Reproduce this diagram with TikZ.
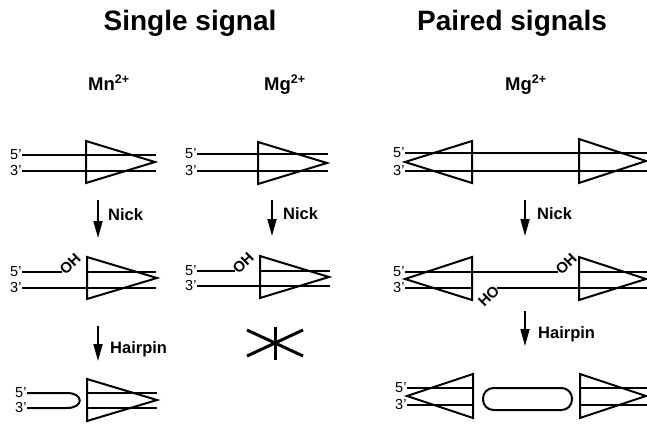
\documentclass[tikz,border=0pt]{standalone}
\usepackage{fontspec}
\setmainfont{Liberation Sans}
\usetikzlibrary{arrows.meta}
\begin{document}
\begin{tikzpicture}[x=1pt,y=-1pt,
  strand/.style={line width=2pt},
  tri/.style={line width=2pt, line join=miter},
  endlbl/.style={font=\fontsize{14.5}{14.5}\selectfont, inner sep=0.3pt, anchor=east},
  title/.style={font=\bfseries\fontsize{28}{28}\selectfont, inner sep=0pt, anchor=base},
  ion/.style={font=\bfseries\fontsize{18.5}{18.5}\selectfont, inner sep=0pt, anchor=base west},
  stepar/.style={line width=1.7pt, -{Triangle[length=17pt,width=9pt]}},
  steplbl/.style={font=\bfseries\fontsize{16.5}{16.5}\selectfont, inner sep=0pt, anchor=west},
  ohlbl/.style={font=\bfseries\fontsize{15}{15}\selectfont, inner sep=0.2pt, rotate=45},
  cross/.style={line width=3pt}]
\useasboundingbox (0,0) rectangle (647,423);
\newcommand{\supsc}[1]{\raisebox{0.33em}{\fontsize{12.5}{12.5}\selectfont #1}}
% titles
\node[title] (t1) at (190,30) {Single signal};
\node[title] (t2) at (512,30) {Paired signals};
\node[ion] (i1) at (88,90) {Mn\supsc{2+}};
\node[ion] (i2) at (264,90) {Mg\supsc{2+}};
\node[ion] (i3) at (505,90) {Mg\supsc{2+}};

% ---------- Column A (Mn) ----------
% row 1
\node[endlbl] (a5) at (22,155) {5'};
\node[endlbl] (a3) at (22,171) {3'};
\draw[strand] (a5.east) -- (156,155);
\draw[strand] (a3.east) -- (156,171);
\draw[tri] (86,141) -- (86,183) -- (155,162) -- cycle;
% nick
\coordinate (an1) at (98,200);
\coordinate (an2) at (98,238);
\draw[stepar] (an1) -- (an2);
\node[steplbl] (anl) at (108,215) {Nick};
% row 2
\node[endlbl] (b5) at (22,272) {5'};
\node[endlbl] (b3) at (22,288) {3'};
\coordinate (boh) at (62,272);
\draw[strand] (b5.east) -- (boh);
\node[ohlbl, anchor=west] (bohl) at (boh) {OH};
\draw[strand] (87,272) -- (156,272);
\draw[strand] (b3.east) -- (156,288);
\draw[tri] (87,257) -- (87,299) -- (157,278) -- cycle;
% hairpin
\coordinate (ah1) at (98,326);
\coordinate (ah2) at (98,361);
\draw[stepar] (ah1) -- (ah2);
\node[steplbl] (ahl) at (110,349) {Hairpin};
% row 3
\node[endlbl] (c5) at (27,393) {5'};
\node[endlbl] (c3) at (27,408) {3'};
\draw[strand] (c5.east) -- (67,393) .. controls (84,393) and (84,408) .. (67,408) -- (c3.east);
\draw[strand] (87,393) -- (157,393);
\draw[strand] (87,408) -- (157,408);
\draw[tri] (87,379) -- (87,421) -- (157,400) -- cycle;

% ---------- Column B (Mg single) ----------
\node[endlbl] (d5) at (197,154) {5'};
\node[endlbl] (d3) at (197,171) {3'};
\draw[strand] (d5.east) -- (328,154);
\draw[strand] (d3.east) -- (328,171);
\draw[tri] (258,142) -- (258,184) -- (327,163) -- cycle;
\coordinate (bn1) at (272,200);
\coordinate (bn2) at (272,236);
\draw[stepar] (bn1) -- (bn2);
\node[steplbl] (bnl) at (283,214) {Nick};
\node[endlbl] (e5) at (197,271) {5'};
\node[endlbl] (e3) at (197,286) {3'};
\coordinate (eoh) at (235,271);
\draw[strand] (e5.east) -- (eoh);
\node[ohlbl, anchor=west] (eohl) at (eoh) {OH};
\draw[strand] (260,271) -- (330,271);
\draw[strand] (e3.east) -- (330,286);
\draw[tri] (260,256) -- (260,298) -- (329,277) -- cycle;
% blocked
\draw[cross] (247,330) -- (303,356);
\draw[cross] (247,356) -- (303,330);
\draw[cross] (275,327) -- (275,360);

% ---------- Column C (paired) ----------
\node[endlbl] (f5) at (405,153) {5'};
\node[endlbl] (f3) at (405,171) {3'};
\draw[strand] (f5.east) -- (647,153);
\draw[strand] (f3.east) -- (647,171);
\draw[tri] (405,162) -- (472,141) -- (472,183) -- cycle;
\draw[tri] (579,139) -- (579,183) -- (646,161) -- cycle;
\coordinate (cn1) at (525,200);
\coordinate (cn2) at (525,236);
\draw[stepar] (cn1) -- (cn2);
\node[steplbl] (cnl) at (537,214) {Nick};
% row 2
\node[endlbl] (g5) at (405,272) {5'};
\node[endlbl] (g3) at (405,288) {3'};
\coordinate (goh) at (558,272);
\coordinate (gho) at (497,288);
\draw[strand] (g5.east) -- (goh);
\node[ohlbl, anchor=west] (gohl) at (goh) {OH};
\draw[strand] (g3.east) -- (472,288);
\draw[strand] (gho) -- (647,288);
\node[ohlbl, anchor=east] (ghol) at (gho) {HO};
\draw[strand] (579,272) -- (647,272);
\draw[tri] (405,279) -- (472,257) -- (472,300) -- cycle;
\draw[tri] (579,257) -- (579,300) -- (646,279) -- cycle;
\coordinate (ch1) at (525,311);
\coordinate (ch2) at (525,346);
\draw[stepar] (ch1) -- (ch2);
\node[steplbl] (chl) at (538,334) {Hairpin};
% row 3
\node[endlbl] (h5) at (407,388) {5'};
\node[endlbl] (h3) at (407,405) {3'};
\draw[strand] (h5.east) -- (473,388);
\draw[strand] (h3.east) -- (473,405);
\draw[tri] (407,396) -- (473,374) -- (473,418) -- cycle;
\draw[strand, rounded corners=10.5pt] (483,388) rectangle (572,410);
\draw[strand] (580,388) -- (647,388);
\draw[strand] (580,405) -- (647,405);
\draw[tri] (580,374) -- (580,418) -- (646,396) -- cycle;
\end{tikzpicture}
\end{document}
